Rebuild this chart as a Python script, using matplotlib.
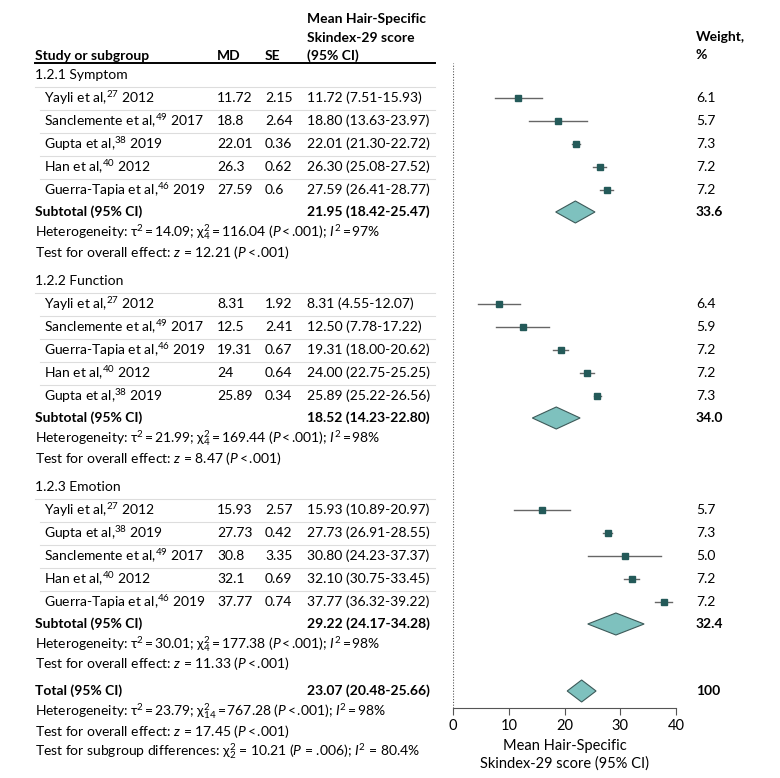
import matplotlib
matplotlib.use("Agg")
import matplotlib.pyplot as plt

plt.rcParams['font.family'] = ['Lato', 'DejaVu Sans']
plt.rcParams['mathtext.fontset'] = 'custom'
plt.rcParams['mathtext.rm'] = 'Lato'
plt.rcParams['mathtext.it'] = 'Lato:italic'
plt.rcParams['mathtext.bf'] = 'Lato:bold'

# --- data ---
groups = ["1.2.1 Symptom", "1.2.2 Function", "1.2.3 Emotion"]

sym_names = ["Yayli et al,", "Sanclemente et al,", "Gupta et al,", "Han et al,", "Guerra-Tapia et al,"]
sym_refs = ["27", "49", "38", "40", "46"]
sym_years = ["2012", "2017", "2019", "2012", "2019"]
sym_md = [11.72, 18.8, 22.01, 26.3, 27.59]
sym_se = [2.15, 2.64, 0.36, 0.62, 0.6]
sym_lo = [7.51, 13.63, 21.30, 25.08, 26.41]
sym_hi = [15.93, 23.97, 22.72, 27.52, 28.77]
sym_w = [6.1, 5.7, 7.3, 7.2, 7.2]

fun_names = ["Yayli et al,", "Sanclemente et al,", "Guerra-Tapia et al,", "Han et al,", "Gupta et al,"]
fun_refs = ["27", "49", "46", "40", "38"]
fun_years = ["2012", "2017", "2019", "2012", "2019"]
fun_md = [8.31, 12.5, 19.31, 24, 25.89]
fun_se = [1.92, 2.41, 0.67, 0.64, 0.34]
fun_lo = [4.55, 7.78, 18.00, 22.75, 25.22]
fun_hi = [12.07, 17.22, 20.62, 25.25, 26.56]
fun_w = [6.4, 5.9, 7.2, 7.2, 7.3]

emo_names = ["Yayli et al,", "Gupta et al,", "Sanclemente et al,", "Han et al,", "Guerra-Tapia et al,"]
emo_refs = ["27", "38", "49", "40", "46"]
emo_years = ["2012", "2019", "2017", "2012", "2019"]
emo_md = [15.93, 27.73, 30.8, 32.1, 37.77]
emo_se = [2.57, 0.42, 3.35, 0.69, 0.74]
emo_lo = [10.89, 26.91, 24.23, 30.75, 36.32]
emo_hi = [20.97, 28.55, 37.37, 33.45, 39.22]
emo_w = [5.7, 7.3, 5.0, 7.2, 7.2]

sub_md = [21.95, 18.52, 29.22]
sub_lo = [18.42, 14.23, 24.17]
sub_hi = [25.47, 22.80, 34.28]
sub_w = [33.6, 34.0, 32.4]
sub_tau2 = ["14.09", "21.99", "30.01"]
sub_chi2 = ["116.04", "169.44", "177.38"]
sub_df = ["4", "4", "4"]
sub_i2 = ["97", "98", "98"]
sub_z = ["12.21", "8.47", "11.33"]

tot_md, tot_lo, tot_hi, tot_w = 23.07, 20.48, 25.66, 100
tot_tau2, tot_chi2, tot_df, tot_i2, tot_z = "23.79", "767.28", "14", "98", "17.45"
sg_chi2, sg_df, sg_p, sg_i2 = "10.21", "2", ".006", "80.4"

studies = [
    (sym_names, sym_refs, sym_years, sym_md, sym_se, sym_lo, sym_hi, sym_w),
    (fun_names, fun_refs, fun_years, fun_md, fun_se, fun_lo, fun_hi, fun_w),
    (emo_names, emo_refs, emo_years, emo_md, emo_se, emo_lo, emo_hi, emo_w),
]

# --- layout ---
W, H = 780, 778
fig = plt.figure(figsize=(W / 100, H / 100), dpi=100)
ax = fig.add_axes([0, 0, 1, 1])
ax.set_xlim(0, W)
ax.set_ylim(H, 0)
ax.axis('off')

# forest panel shares the pixel y scale
top_y, axis_y = 63, 708
fa = fig.add_axes([453 / W, (H - axis_y) / H, 223 / W, (axis_y - top_y) / H])
fa.set_xlim(0, 40)
fa.set_ylim(axis_y, top_y)
for s in ['top', 'right', 'left']:
    fa.spines[s].set_visible(False)
fa.spines['bottom'].set_color('#555555')
fa.set_xticks([0, 10, 20, 30, 40])
fa.tick_params(axis='x', direction='out', length=5, color='#555555', labelsize=10.5, pad=3)
fa.set_yticks([])
fa.patch.set_alpha(0)
fa.axvline(0, color='#555555', ls=(0, (1, 1.5)), lw=0.8)
fa.set_xlabel("Mean Hair-Specific\nSkindex-29 score (95% CI)", fontsize=10.5, labelpad=4,
              linespacing=1.35)

FS = 10
TS = "\u2009"  # thin space
X_NAME, X_SUB, X_MD, X_SE, X_CI, X_W = 44, 35, 217, 265, 307, 696
SQ = '#245a59'
DIA_FILL = '#7ec1be'
DIA_EDGE = '#3d5a59'


def diamond(y, md, lo, hi):
    h = 11
    fa.fill([lo, md, hi, md], [y, y - h, y, y + h], facecolor=DIA_FILL,
            edgecolor=DIA_EDGE, lw=0.8, zorder=3)


def het_text(tau2, df, chi2, i2):
    return (f"Heterogeneity: τ$^2${TS}={TS}{tau2}; χ$^2_{{{df}}}${TS}={TS}{chi2} "
            f"($P${TS}<{TS}.001); $I^2${TS}={TS}{i2}%")


# header
ax.text(X_CI, 19, "Mean Hair-Specific", fontsize=FS, fontweight='bold', va='center')
ax.text(X_CI, 38, "Skindex-29 score", fontsize=FS, fontweight='bold', va='center')
ax.text(X_CI, 56, "(95% CI)", fontsize=FS, fontweight='bold', va='center')
ax.text(X_SUB, 56, "Study or subgroup", fontsize=FS, fontweight='bold', va='center')
ax.text(X_MD, 56, "MD", fontsize=FS, fontweight='bold', va='center')
ax.text(X_SE, 56, "SE", fontsize=FS, fontweight='bold', va='center')
ax.text(X_W, 37, "Weight,", fontsize=FS, fontweight='bold', va='center')
ax.text(X_W, 55, "%", fontsize=FS, fontweight='bold', va='center')
ax.plot([X_SUB, 435], [top_y, top_y], color='black', lw=1.4)

y = 75
for g, (names, refs, years, md, se, lo, hi, w) in enumerate(studies):
    ax.text(X_SUB, y, groups[g], fontsize=FS, va='center')
    ax.plot([X_SUB, 435], [y + 11.5, y + 11.5], color='#dddddd', lw=0.8)
    y += 23
    for i in range(len(names)):
        ax.text(X_NAME, y, f"{names[i]}$^{{{refs[i]}}}$ {years[i]}", fontsize=FS, va='center')
        ax.text(X_MD, y, f"{md[i]:g}", fontsize=FS, va='center')
        ax.text(X_SE, y, f"{se[i]:g}", fontsize=FS, va='center')
        ax.text(X_CI, y, f"{md[i]:.2f} ({lo[i]:.2f}-{hi[i]:.2f})", fontsize=FS, va='center')
        ax.text(X_W, y, f"{w[i]:.1f}", fontsize=FS, va='center')
        if i < len(names) - 1:
            ax.plot([X_NAME - 4, 435], [y + 11.5, y + 11.5], color='#dddddd', lw=0.8)
        fa.plot([lo[i], hi[i]], [y, y], color='#666666', lw=1, zorder=2)
        fa.plot(md[i], y, marker='s', ms=4.6, color=SQ, zorder=3)
        y += 23
    y -= 1
    ax.text(X_SUB, y, "Subtotal (95% CI)", fontsize=FS, fontweight='bold', va='center')
    ax.text(X_CI, y, f"{sub_md[g]:.2f} ({sub_lo[g]:.2f}-{sub_hi[g]:.2f})", fontsize=FS,
            fontweight='bold', va='center')
    ax.text(X_W, y, f"{sub_w[g]:.1f}", fontsize=FS, fontweight='bold', va='center')
    diamond(y, sub_md[g], sub_lo[g], sub_hi[g])
    y += 20
    ax.text(X_SUB, y, het_text(sub_tau2[g], sub_df[g], sub_chi2[g], sub_i2[g]), fontsize=FS, va='center')
    y += 20
    ax.text(X_SUB, y, f"Test for overall effect: $z$ = {sub_z[g]} ($P${TS}<{TS}.001)", fontsize=FS, va='center')
    y += 29

y -= 2
ax.text(X_SUB, y, "Total (95% CI)", fontsize=FS, fontweight='bold', va='center')
ax.text(X_CI, y, f"{tot_md:.2f} ({tot_lo:.2f}-{tot_hi:.2f})", fontsize=FS, fontweight='bold', va='center')
ax.text(X_W, y, f"{tot_w}", fontsize=FS, fontweight='bold', va='center')
diamond(y, tot_md, tot_lo, tot_hi)
y += 20
ax.text(X_SUB, y, het_text(tot_tau2, tot_df, tot_chi2, tot_i2), fontsize=FS, va='center')
y += 20
ax.text(X_SUB, y, f"Test for overall effect: $z$ = {tot_z} ($P${TS}<{TS}.001)", fontsize=FS, va='center')
y += 20
ax.text(X_SUB, y, f"Test for subgroup differences: χ$^2_{{{sg_df}}}$ = {sg_chi2} ($P$ = {sg_p}); "
        f"$I^2$ = {sg_i2}%", fontsize=FS, va='center')

fig.savefig("out.png", dpi=100)
